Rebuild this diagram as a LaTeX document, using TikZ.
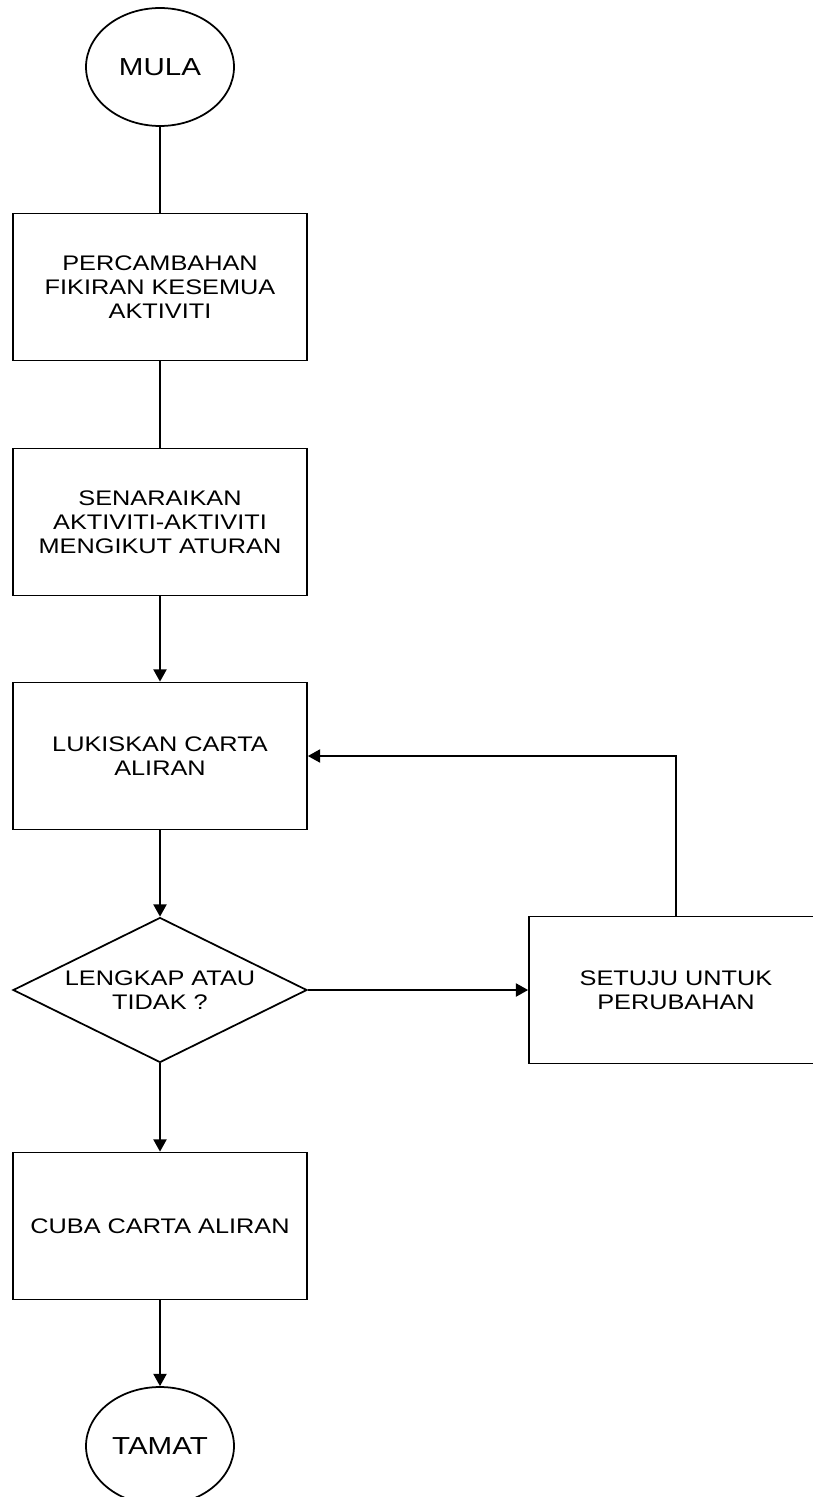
\documentclass[tikz,border=0pt]{standalone}
\usepackage{fontspec}
\setmainfont[FakeStretch=1.2]{Liberation Sans}
\usetikzlibrary{shapes.geometric,arrows.meta}

\begin{document}
\begin{tikzpicture}[x=0.02cm, y=-0.02cm, >={Triangle[length=7pt,width=7.5pt]}, line width=1pt,
        proses/.style={draw, rectangle, minimum width=5.88cm, minimum height=2.94cm, inner sep=0pt, align=center, font=\fontsize{12}{13.6}\selectfont},
        hujung/.style={draw, ellipse, minimum width=2.96cm, minimum height=2.36cm, inner sep=0pt, font=\fontsize{14}{16}\selectfont},
        keputusan/.style={draw, diamond, minimum width=5.88cm, minimum height=2.9cm, inner sep=0pt}]
        \useasboundingbox (0, 0) rectangle (812, 1497);

        % Mula dan tamat
        \node[hujung] (mula) at (160, 67) {MULA};
        \node[hujung] (tamat) at (160, 1446) {TAMAT};

        % Langkah-langkah
        \node[proses] (fikir) at (160, 287) {PERCAMBAHAN\\FIKIRAN KESEMUA\\AKTIVITI};
        \node[proses] (senarai) at (160, 522) {SENARAIKAN\\AKTIVITI-AKTIVITI\\MENGIKUT ATURAN};
        \node[proses] (lukis) at (160, 756) {LUKISKAN CARTA\\ALIRAN};
        \node[keputusan] (lengkap) at (160, 990) {};
        \node[align=center, font=\fontsize{12}{13.6}\selectfont] (soalan) at (lengkap.center) {LENGKAP ATAU\\TIDAK ?};
        \node[proses] (setuju) at (676, 990) {SETUJU UNTUK\\PERUBAHAN};
        \node[proses] (cuba) at (160, 1226) {CUBA CARTA ALIRAN};

        % Aliran
        \draw (mula) -- (fikir);
        \draw (fikir) -- (senarai);
        \draw[->] (senarai) -- (lukis);
        \draw[->] (lukis) -- (lengkap.north);
        \draw[->] (lengkap.east) -- (setuju);
        \draw[->] (setuju.north) |- (lukis.east);
        \draw[->] (lengkap.south) -- (cuba);
        \draw[->] (cuba) -- (tamat);
    \end{tikzpicture}
\end{document}
